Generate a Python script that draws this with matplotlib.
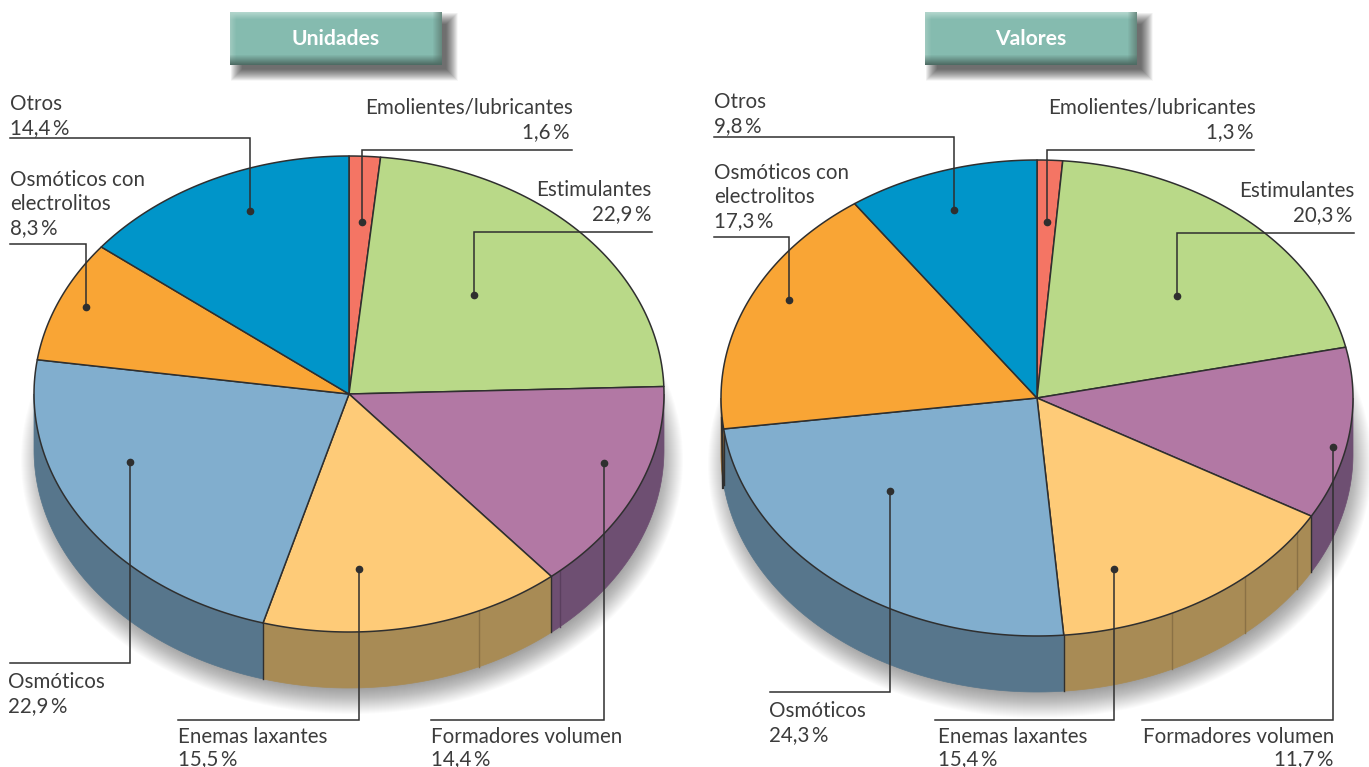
import matplotlib
matplotlib.use('Agg')
import matplotlib.pyplot as plt
import numpy as np
from matplotlib.patches import Ellipse, Polygon, Rectangle

plt.rcParams['font.family'] = ['Lato', 'DejaVu Sans']

# order: clockwise from 12 o'clock
categories = ['Emolientes/lubricantes', 'Estimulantes', 'Formadores volumen',
              'Enemas laxantes', 'Osmóticos', 'Osmóticos con electrolitos', 'Otros']
unidades = [1.6, 22.9, 14.4, 15.5, 22.9, 8.3, 14.4]
valores = [1.3, 20.3, 11.7, 15.4, 24.3, 17.3, 9.8]

top_colors = ['#f47564', '#b9d988', '#b278a4', '#fecb78', '#81aece', '#f9a535', '#0095c9']
side_colors = ['#a85044', '#7f9860', '#6e4f72', '#a88b55', '#57768c', '#a87028', '#00658a']
EDGE = '#2f2f2f'
TEXT = '#3c3c3c'
TAN_SEAM = '#8a7145'
PURPLE_SEAM = '#5a3f5e'
DEPTH = 56
FONT = 14.8

fig = plt.figure(figsize=(13.69, 7.67), dpi=100)
ax = fig.add_axes([0, 0, 1, 1])


def arc(cx, cy, rx, ry, a0, a1, n=80):
    """Points on the ellipse, angles in degrees clockwise from the top."""
    t = np.radians(np.linspace(a0, a1, n))
    return np.column_stack([cx + rx * np.sin(t), cy - ry * np.cos(t)])


def draw_shadow(cx, cy, rx, ry):
    for k in range(26):
        grow = 16 - k
        ax.add_patch(Ellipse((cx + 3, cy + DEPTH + 10), 2 * (rx + grow), 2 * (ry + grow),
                             fc='black', ec='none', alpha=0.017, zorder=1))


def draw_pie(values, cx, cy, rx, ry, seams):
    draw_shadow(cx, cy, rx, ry)
    edges = np.cumsum([0] + values) / sum(values) * 360

    # side wall, only the front half of the ellipse shows
    for i in range(len(values)):
        a0, a1 = max(edges[i], 90), min(edges[i + 1], 270)
        if a1 <= a0:
            continue
        upper = arc(cx, cy, rx, ry, a0, a1)
        lower = upper[::-1] + [0, DEPTH]
        ax.add_patch(Polygon(np.vstack([upper, lower]), fc=side_colors[i], ec=side_colors[i],
                             lw=0.5, zorder=2))
    for e in edges:
        if 90 < e < 270:
            p = arc(cx, cy, rx, ry, e, e, 1)[0]
            ax.plot([p[0], p[0]], [p[1], p[1] + DEPTH], color=EDGE, lw=1, zorder=3)
    # faint seams in the wall
    for s, col in seams:
        p = arc(cx, cy, rx, ry, s, s, 1)[0]
        ax.plot([p[0], p[0]], [p[1], p[1] + DEPTH], color=col, lw=1, zorder=3)

    # top face
    for i in range(len(values)):
        rim = arc(cx, cy, rx, ry, edges[i], edges[i + 1])
        ax.add_patch(Polygon(np.vstack([[cx, cy], rim]), fc=top_colors[i], ec=EDGE,
                             lw=1.1, joinstyle='round', zorder=4))


def draw_button(label, x0, y0, w, h):
    for k in range(24):
        grow = 15 - k
        ax.add_patch(Rectangle((x0 + 8 - grow / 2, y0 + 8 - grow / 2), w + grow, h + grow,
                               fc='black', ec='none', alpha=0.03, zorder=1))
    yy, xx = np.mgrid[0:h, 0:w]
    img = np.ones((h, w, 3)) * np.array([133, 187, 175]) / 255
    top = np.clip(1 - yy / 7, 0, 1)[..., None]
    bottom = np.clip(1 - (h - 1 - yy) / 10, 0, 1)[..., None]
    right = np.clip(1 - (w - 1 - xx) / 9, 0, 1)[..., None]
    left = np.clip(1 - xx / 6, 0, 1)[..., None]
    img = img + (np.array([178, 214, 205]) / 255 - img) * top
    img = img + (np.array([175, 210, 200]) / 255 - img) * left * 0.6
    img = img + (np.array([95, 125, 115]) / 255 - img) * right * 0.8
    img = img + (np.array([78, 108, 100]) / 255 - img) * bottom
    ax.imshow(img, extent=(x0, x0 + w, y0 + h, y0), aspect='auto', zorder=3, interpolation='bilinear')
    ax.text(x0 + w / 2, y0 + h / 2 + 0.5, label, color='white', fontsize=15.2, fontweight='bold',
            ha='center', va='center', zorder=5)


def draw_leader(points):
    pts = np.array(points)
    ax.plot(pts[:, 0], pts[:, 1], color=EDGE, lw=1.1, zorder=6, solid_joinstyle='miter')
    ax.plot(pts[-1, 0], pts[-1, 1], 'o', color=EDGE, ms=4.5, zorder=7)


left_leaders = [
    [(10, 138), (250, 138), (250, 211)],
    [(572, 150), (362, 150), (362, 222)],
    [(652, 232), (474, 232), (474, 295)],
    [(10, 244), (86, 244), (86, 307)],
    [(431, 720), (604, 720), (604, 463)],
    [(178, 720), (359, 720), (359, 569)],
    [(10, 663), (130, 663), (130, 462)],
]
right_leaders = [
    [(714, 137), (954, 137), (954, 210)],
    [(1254, 150), (1047, 150), (1047, 222)],
    [(1354, 233), (1177, 233), (1177, 296)],
    [(714, 237), (789, 237), (789, 300)],
    [(1142, 720), (1333, 720), (1333, 447)],
    [(935, 720), (1114, 720), (1114, 569)],
    [(770, 692), (890, 692), (890, 491)],
]

# text, x, y of first line, alignment
left_labels = [
    ('Otros\n14,4\u2009%', 10, 102, 'left'),
    ('Emolientes/lubricantes', 365, 106, 'left'),
    ('1,6\u2009%', 569, 130, 'right'),
    ('Estimulantes', 651, 188, 'right'),
    ('22,9\u2009%', 651, 212, 'right'),
    ('Osmóticos con\nelectrolitos\n8,3\u2009%', 10, 178, 'left'),
    ('Osmóticos\n22,9\u2009%', 8, 680, 'left'),
    ('Enemas laxantes', 178, 735, 'left'),
    ('15,5\u2009%', 178, 757, 'left'),
    ('Formadores volumen', 431, 735, 'left'),
    ('14,4\u2009%', 431, 757, 'left'),
]
right_labels = [
    ('Otros\n9,8\u2009%', 714, 100, 'left'),
    ('Emolientes/lubricantes', 1048, 106, 'left'),
    ('1,3\u2009%', 1253, 130, 'right'),
    ('Estimulantes', 1354, 189, 'right'),
    ('20,3\u2009%', 1352, 213, 'right'),
    ('Osmóticos con\nelectrolitos\n17,3\u2009%', 714, 171, 'left'),
    ('Osmóticos\n24,3\u2009%', 769, 709, 'left'),
    ('Enemas laxantes', 938, 735, 'left'),
    ('15,4\u2009%', 938, 757, 'left'),
    ('Formadores volumen', 1334, 735, 'right'),
    ('11,7\u2009%', 1333, 757, 'right'),
]

draw_button('Unidades', 230, 12, 212, 53)
draw_button('Valores', 925, 12, 212, 53)

draw_pie(unidades, 349, 394, 315, 238, seams=[(155.6, TAN_SEAM), (138, PURPLE_SEAM)])
draw_pie(valores, 1037, 398, 316, 238, seams=[(154.7, TAN_SEAM), (138.8, TAN_SEAM), (124.6, TAN_SEAM)])

# dark sliver left of the orange slice on the right pie
ax.plot([722, 723], [418, 488], color=EDGE, lw=1.6, zorder=3)

for leaders, labels in [(left_leaders, left_labels), (right_leaders, right_labels)]:
    for pts in leaders:
        draw_leader(pts)
    for txt, x, y, ha in labels:
        for n, line in enumerate(txt.split('\n')):
            ax.text(x, y + 24 * n, line, color=TEXT, fontsize=FONT, ha=ha,
                    va='center_baseline', zorder=8)

ax.set_xlim(0, 1369)
ax.set_ylim(767, 0)
ax.axis('off')
fig.savefig('out.png', dpi=100)
